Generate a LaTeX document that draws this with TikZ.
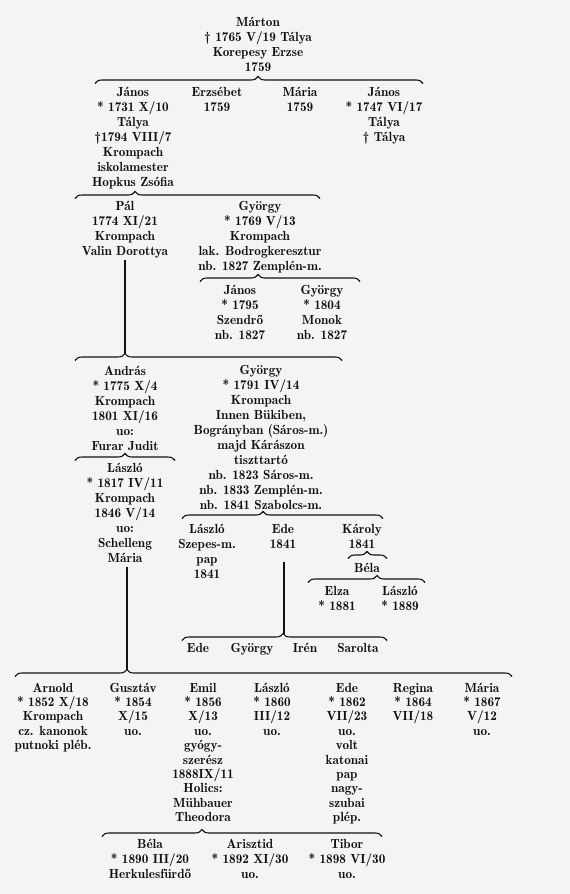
\documentclass[tikz,border=0pt]{standalone}
\usepackage{fontspec}
\setmainfont{lmromandemi10-regular.otf}
\usetikzlibrary{decorations.pathreplacing}
\definecolor{paper}{HTML}{F4F4F4}
\definecolor{ink}{HTML}{111111}
\newcommand{\famtext}[1]{\begin{tabular}[t]{@{}c@{}}#1\end{tabular}}
\newcommand{\born}{{*}}
\tikzset{
  gnode/.style={inner sep=0pt, anchor=base, text=ink, font=\fontsize{13.2pt}{15pt}\selectfont},
  gnodeb/.style={inner sep=0pt, anchor=base, text=ink, font=\fontsize{13.2pt}{14.4pt}\selectfont},
  gbrace/.style={draw=ink, decorate, line width=1.1pt, decoration={brace, amplitude=7pt, aspect=#1}},
  gline/.style={draw=ink, line width=1.3pt}
}
\begin{document}
\begin{tikzpicture}[x=1pt, y=-1pt]
\fill[paper] (0,0) rectangle (570,894);
\useasboundingbox (0,0) rectangle (570,894);

% generation 0
\node[gnode] (marton) at (258,27) {\famtext{Márton\\ † 1765 V/19 Tálya\\ Korepesy Erzse\\ 1759}};

% brace 1
\coordinate (b1l) at (95,83.5);
\coordinate (b1r) at (423,83.5);
\draw[gbrace=0.497] (b1l) -- (b1r);

\node[gnode] (janos1) at (133,96) {\famtext{János\\ \born\ 1731 X/10\\ Tálya\\ †1794 VIII/7\\ Krompach\\ iskolamester\\ Hopkus Zsófia}};
\node[gnode] (erzsebet) at (217,96) {\famtext{Erzsébet\\ 1759}};
\node[gnode] (maria1) at (300,96) {\famtext{Mária\\ 1759}};
\node[gnode] (janos2) at (384,96) {\famtext{János\\ \born\ 1747 VI/17\\ Tálya\\ † Tálya}};

% brace 2
\coordinate (b2l) at (75,198.5);
\coordinate (b2r) at (320,198.5);
\draw[gbrace=0.245] (b2l) -- (b2r);

\node[gnode] (pal) at (125,210) {\famtext{Pál\\ 1774 XI/21\\ Krompach\\ Valin Dorottya}};
\node[gnode] (gyorgy1) at (260,210) {\famtext{György\\ \born\ 1769 V/13\\ Krompach\\ lak. Bodrogkeresztur\\ nb. 1827 Zemplén-m.}};

% brace 3
\coordinate (b3l) at (200,281.5);
\coordinate (b3r) at (360,281.5);
\draw[gbrace=0.3625] (b3l) -- (b3r);

\node[gnode] (janos3) at (240,294) {\famtext{János\\ \born\ 1795\\ Szendrő\\ nb. 1827}};
\node[gnode] (gyorgy2) at (322,294) {\famtext{György\\ \born\ 1804\\ Monok\\ nb. 1827}};

% brace 4
\coordinate (b4l) at (75,360.5);
\coordinate (b4r) at (342,360.5);
\coordinate (b4tip) at (125,353.5);
\draw[gbrace=0.187] (b4l) -- (b4r);
\draw[gline] (pal.south) -- (b4tip);

\node[gnode] (andras) at (125,375) {\famtext{András\\ \born\ 1775 X/4\\ Krompach\\ 1801 XI/16\\ uo:\\ Furar Judit}};
\node[gnode] (gyorgy3) at (261,374) {\famtext{György\\ \born\ 1791 IV/14\\ Krompach\\ Innen Bükiben,\\ Bogrányban (Sáros-m.)\\ majd Kárászon\\ tiszttartó\\ nb. 1823 Sáros-m.\\ nb. 1833 Zemplén-m.\\ nb. 1841 Szabolcs-m.}};

% brace 5
\coordinate (b5l) at (75,460.5);
\coordinate (b5r) at (175,460.5);
\draw[gbrace=0.5] (b5l) -- (b5r);

\node[gnode] (laszlo1) at (125,472) {\famtext{László\\ \born\ 1817 IV/11\\ Krompach\\ 1846 V/14\\ uo:\\ Schelleng\\ Mária}};

% brace 6
\coordinate (b6l) at (182,518.5);
\coordinate (b6r) at (383,518.5);
\draw[gbrace=0.403] (b6l) -- (b6r);

\node[gnode] (laszlo2) at (207,533) {\famtext{László\\ Szepes-m.\\ pap\\ 1841}};
\node[gnode] (ede1) at (283,533) {\famtext{Ede\\ 1841}};
\node[gnode] (karoly) at (362,533) {\famtext{Károly\\ 1841}};

% Karoly brace
\coordinate (bkl) at (348,558.5);
\coordinate (bkr) at (387,558.5);
\draw[gbrace=0.487] (bkl) -- (bkr);
\node[gnode] (bela1) at (367,572) {\famtext{Béla}};

% Bela brace
\coordinate (bbl) at (308,582.5);
\coordinate (bbr) at (425,582.5);
\draw[gbrace=0.59] (bbl) -- (bbr);
\node[gnode] (elza) at (337,595) {\famtext{Elza\\ \born\ 1881}};
\node[gnode] (laszlo3) at (400,595) {\famtext{László\\ \born\ 1889}};

% brace 7 (Ede's children)
\coordinate (b7l) at (182,640.5);
\coordinate (b7r) at (387,640.5);
\coordinate (b7tip) at (284,633.5);
\draw[gbrace=0.493] (b7l) -- (b7r);
\draw[gline, shorten <=9pt] (ede1.south -| b7tip) -- (b7tip);

\node[gnode] (ede2) at (198,652) {Ede};
\node[gnode] (gyorgy4) at (252,652) {György};
\node[gnode] (iren) at (305,652) {Irén};
\node[gnode] (sarolta) at (358,652) {Sarolta};

% brace 8
\coordinate (b8l) at (15,676.5);
\coordinate (b8r) at (512,676.5);
\coordinate (b8tip) at (127,669.5);
\draw[gbrace=0.225] (b8l) -- (b8r);
\draw[gline] (laszlo1.south -| b8tip) -- (b8tip);

\node[gnodeb] (arnold) at (53,692) {\famtext{Arnold\\ \born\ 1852 X/18\\ Krompach\\ cz. kanonok\\ putnoki pléb.}};
\node[gnodeb] (gusztav) at (133,692) {\famtext{Gusztáv\\ \born\ 1854\\ X/15\\ uo.}};
\node[gnodeb] (emil) at (203,692) {\famtext{Emil\\ \born\ 1856\\ X/13\\ uo.\\ gyógy-\\ szerész\\ 1888IX/11\\ Holics:\\ Mühbauer\\ Theodora}};
\node[gnodeb] (laszlo4) at (272,692) {\famtext{László\\ \born\ 1860\\ III/12\\ uo.}};
\node[gnodeb] (ede3) at (347,692) {\famtext{Ede\\ \born\ 1862\\ VII/23\\ uo.\\ volt\\ katonai\\ pap\\ nagy-\\ szubai\\ plép.}};
\node[gnodeb] (regina) at (413,692) {\famtext{Regina\\ \born\ 1864\\ VII/18}};
\node[gnodeb] (maria2) at (482,692) {\famtext{Mária\\ \born\ 1867\\ V/12\\ uo.}};

% brace 9
\coordinate (b9l) at (102,836.5);
\coordinate (b9r) at (382,836.5);
\draw[gbrace=0.357] (b9l) -- (b9r);

\node[gnode] (bela2) at (150,848) {\famtext{Béla\\ \born\ 1890 III/20\\ Herkulesfürdő}};
\node[gnode] (arisztid) at (250,848) {\famtext{Arisztid\\ \born\ 1892 XI/30\\ uo.}};
\node[gnode] (tibor) at (347,848) {\famtext{Tibor\\ \born\ 1898 VI/30\\ uo.}};
\end{tikzpicture}
\end{document}
